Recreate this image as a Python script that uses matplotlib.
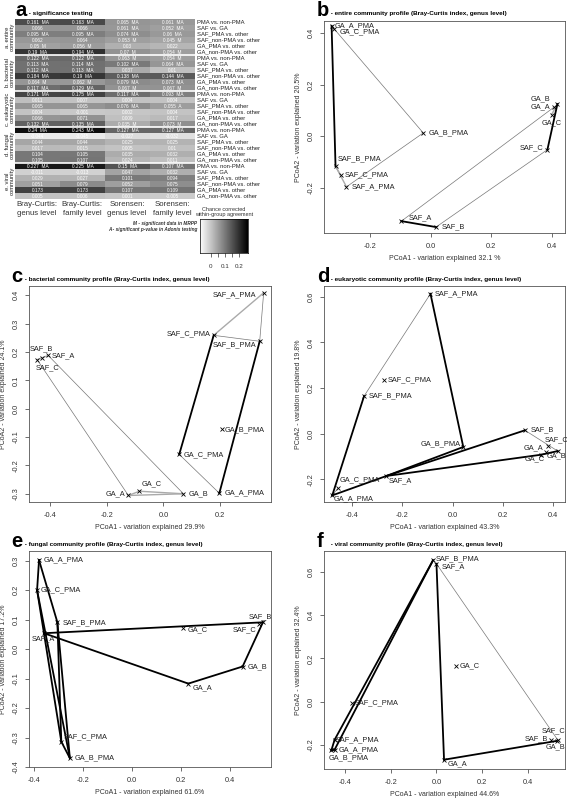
import numpy as np
import matplotlib.pyplot as plt
from matplotlib.ticker import FormatStrFormatter

plt.rcParams['font.family'] = ['Liberation Sans', 'DejaVu Sans']
plt.rcParams['axes.unicode_minus'] = False

W, H = 567, 798

# ---------------- panel a: significance testing ----------------
groups = ['a. entire\ncommunity', 'b. bacterial\ncommunity', 'c. eukaryotic\ncommunity',
          'd. fungal\ncommunity', 'e. viral\ncommunity']
comparisons = ['PMA vs. non-PMA', 'SAF vs. GA', 'SAF_PMA vs. other',
               'SAF_non-PMA vs. other', 'GA_PMA vs. other', 'GA_non-PMA vs. other']
methods = ['Bray-Curtis:\ngenus level', 'Bray-Curtis:\nfamily level',
           'Sorensen:\ngenus level', 'Sorensen:\nfamily level']

bc_genus = [0.161, 0.066, 0.095, 0.062, 0.05, 0.19,
            0.122, 0.113, 0.112, 0.184, 0.064, 0.117,
            0.171, 0.011, 0.065, 0.004, 0.066, 0.132,
            0.24, -0.044, 0.044, 0.017, 0.104, 0.105,
            0.227, -0.011, 0.029, 0.051, 0.173, 0.005]
bc_family = [0.163, 0.066, 0.095, 0.064, 0.056, 0.194,
             0.122, 0.114, 0.113, 0.19, 0.062, 0.129,
             0.175, 0.007, 0.065, -0.001, 0.071, 0.135,
             0.243, -0.045, 0.044, 0.015, 0.105, 0.107,
             0.225, -0.013, 0.027, 0.079, 0.173, 0.006]
sor_genus = [0.065, 0.061, 0.074, 0.053, 0.03, 0.07,
             0.063, 0.102, 0.037, 0.138, 0.079, 0.067,
             0.117, 0.004, 0.076, 0.002, 0.009, 0.035,
             0.127, -0.027, 0.025, 0.005, 0.035, 0.024,
             0.15, 0.047, 0.101, 0.052, 0.107, 0.001]
sor_family = [0.061, 0.052, 0.06, 0.045, 0.022, 0.054,
              0.054, 0.064, 0.01, 0.144, 0.073, 0.067,
              0.093, 0.004, 0.055, 0.004, 0.017, 0.073,
              0.127, -0.032, 0.025, 0.01, 0.032, 0.011,
              0.107, 0.032, 0.094, 0.075, 0.109, -0.005]

sig_bc_genus = ['MA', '', 'MA', '', 'M', 'MA',
                'MA', 'MA', 'MA', 'MA', 'M', 'MA',
                'MA', '', '', '', '', 'MA',
                'MA', '', '', '', '', '',
                'MA', '', '', '', '', '']
sig_bc_family = list(sig_bc_genus)
sig_sor_genus = ['MA', 'MA', 'MA', 'M', '', 'M',
                 'M', 'MA', '', 'MA', 'MA', 'M',
                 'MA', '', 'MA', '', '', 'M',
                 'MA', '', '', '', '', '',
                 'MA', '', '', '', '', '']
sig_sor_family = ['MA', 'MA', 'MA', 'M', '', 'M',
                  'M', 'MA', '', 'MA', 'MA', 'M',
                  'MA', '', 'A', '', '', 'M',
                  'MA', '', '', '', '', '',
                  'MA', '', '', '', '', '']

# ---------------- PCoA panels ----------------
b_names = ['GA_A_PMA', 'GA_C_PMA', 'GA_B_PMA', 'SAF_B_PMA', 'SAF_C_PMA', 'SAF_A_PMA',
           'SAF_A', 'SAF_B', 'GA_B', 'GA_A', 'GA_C', 'SAF_C']
b_x = [-0.326, -0.319, -0.024, -0.313, -0.296, -0.277, -0.096, 0.018, 0.418, 0.408, 0.399, 0.385]
b_y = [0.428, 0.415, 0.013, -0.116, -0.151, -0.196, -0.329, -0.352, 0.125, 0.114, 0.084, -0.052]
b_edges = [('GA_A_PMA', 'SAF_B_PMA', 'k'), ('GA_A_PMA', 'GA_C_PMA', 'l'),
           ('SAF_B_PMA', 'SAF_A_PMA', 'l'), ('SAF_B_PMA', 'SAF_C_PMA', 'l'),
           ('GA_A_PMA', 'GA_B_PMA', 'g'), ('GA_B_PMA', 'SAF_A_PMA', 'g'),
           ('SAF_A', 'SAF_B', 'k'), ('SAF_A', 'GA_A', 'g'), ('SAF_B', 'SAF_C', 'g'),
           ('GA_B', 'SAF_C', 'k'), ('GA_B', 'GA_C', 'l')]

c_names = ['SAF_A_PMA', 'SAF_C_PMA', 'SAF_B_PMA', 'GA_B_PMA', 'GA_C_PMA', 'GA_A_PMA',
           'GA_B', 'GA_A', 'GA_C', 'SAF_B', 'SAF_A', 'SAF_C']
c_x = [0.355, 0.178, 0.341, 0.207, 0.056, 0.198, 0.071, -0.124, -0.085, -0.447, -0.408, -0.43]
c_y = [0.409, 0.259, 0.238, -0.073, -0.161, -0.298, -0.3, -0.306, -0.291, 0.173, 0.188, 0.178]
c_edges = [('SAF_A_PMA', 'SAF_C_PMA', 'l'), ('SAF_A_PMA', 'SAF_B_PMA', 'g'),
           ('SAF_C_PMA', 'SAF_B_PMA', 'g'), ('SAF_C_PMA', 'GA_C_PMA', 'k'),
           ('SAF_B_PMA', 'GA_A_PMA', 'k'), ('GA_C_PMA', 'GA_A_PMA', 'g'),
           ('SAF_B', 'SAF_A', 'l'), ('SAF_B', 'GA_A', 'g'), ('SAF_A', 'GA_B', 'g'),
           ('GA_A', 'GA_C', 'l'), ('GA_C', 'GA_B', 'l'), ('GA_A', 'GA_B', 'l')]

d_names = ['SAF_A_PMA', 'SAF_C_PMA', 'SAF_B_PMA', 'GA_B_PMA', 'SAF_B', 'SAF_C',
           'GA_A', 'GA_B', 'GA_C', 'SAF_A', 'GA_C_PMA', 'GA_A_PMA']
d_x = [-0.088, -0.275, -0.353, 0.043, 0.289, 0.383, 0.373, 0.42, 0.353, -0.264, -0.457, -0.48]
d_y = [0.613, 0.236, 0.165, -0.058, 0.015, -0.054, -0.08, -0.076, -0.092, -0.185, -0.238, -0.27]
d_edges = [('SAF_A_PMA', 'SAF_B_PMA', 'g'), ('SAF_A_PMA', 'GA_B_PMA', 'k'),
           ('SAF_B_PMA', 'GA_A_PMA', 'k'), ('GA_A_PMA', 'SAF_A', 'k'),
           ('GA_A_PMA', 'GA_C_PMA', 'g'), ('SAF_A', 'GA_B_PMA', 'k'),
           ('SAF_A', 'SAF_B', 'k'), ('SAF_A', 'GA_C', 'k'), ('GA_C', 'GA_B', 'k'),
           ('SAF_B', 'GA_B', 'g')]

e_names = ['GA_A_PMA', 'GA_C_PMA', 'SAF_B_PMA', 'SAF_A', 'GA_C', 'SAF_B',
           'SAF_C', 'GA_B', 'GA_A', 'SAF_C_PMA', 'GA_B_PMA']
e_x = [-0.381, -0.389, -0.306, -0.361, 0.206, 0.534, 0.52, 0.451, 0.229, -0.29, -0.255]
e_y = [0.302, 0.2, 0.091, 0.054, 0.072, 0.091, 0.086, -0.059, -0.117, -0.314, -0.37]
e_edges = [('GA_A_PMA', 'GA_C_PMA', 'k'), ('GA_A_PMA', 'SAF_B_PMA', 'k'),
           ('SAF_B_PMA', 'GA_B_PMA', 'k'), ('SAF_B_PMA', 'SAF_C_PMA', 'k'),
           ('GA_C_PMA', 'SAF_C_PMA', 'k'), ('GA_C_PMA', 'GA_B_PMA', 'k'),
           ('SAF_C_PMA', 'GA_B_PMA', 'k'), ('SAF_A', 'SAF_B', 'k'),
           ('SAF_A', 'GA_A', 'k'), ('GA_A', 'GA_B', 'k'), ('GA_B', 'SAF_B', 'k')]

f_names = ['SAF_B_PMA', 'SAF_A', 'GA_C', 'SAF_C_PMA', 'SAF_A_PMA', 'GA_A_PMA',
           'GA_B_PMA', 'GA_A', 'SAF_B', 'SAF_C', 'GA_B']
f_x = [-0.015, 0.0, 0.087, -0.367, -0.444, -0.444, -0.458, 0.033, 0.499, 0.528, 0.524]
f_y = [0.654, 0.638, 0.165, -0.005, -0.177, -0.223, -0.226, -0.269, -0.18, -0.177, -0.182]
f_edges = [('SAF_B_PMA', 'SAF_A_PMA', 'k'), ('SAF_B_PMA', 'GA_A_PMA', 'k'),
           ('SAF_A_PMA', 'GA_B_PMA', 'k'), ('GA_A_PMA', 'GA_B_PMA', 'k'),
           ('SAF_A', 'GA_A', 'k'), ('GA_A', 'GA_B', 'k'),
           ('SAF_A', 'SAF_C', 'g'), ('SAF_C', 'GA_B', 'g')]

# label placement (pixel offsets dx, dy, horizontal alignment)
b_lab = {'GA_A_PMA': (3, 0, 'left'), 'GA_C_PMA': (6, -3, 'left'), 'GA_B_PMA': (5, 0, 'left'),
         'SAF_B_PMA': (2, 7, 'left'), 'SAF_C_PMA': (4, 0, 'left'), 'SAF_A_PMA': (5, 0, 'left'),
         'SAF_A': (7, 3, 'left'), 'SAF_B': (6, 0, 'left'), 'GA_B': (-7, 5, 'right'),
         'GA_A': (-4, 0, 'right'), 'GA_C': (0, -8, 'center'), 'SAF_C': (-4, 2, 'right')}
c_lab = {'SAF_A_PMA': (-7, -2, 'right'), 'SAF_C_PMA': (-3, 2, 'right'),
         'SAF_B_PMA': (-3, -3, 'right'), 'GA_B_PMA': (3, 0, 'left'), 'GA_C_PMA': (4, 0, 'left'),
         'GA_A_PMA': (5, 0, 'left'), 'GA_B': (5, 0, 'left'), 'GA_A': (-3, 2, 'right'),
         'GA_C': (2, 7, 'left'), 'SAF_B': (-8, 11, 'left'), 'SAF_A': (3, 0, 'left'),
         'SAF_C': (-6, -9, 'left')}
d_lab = {'SAF_A_PMA': (4, 0, 'left'), 'SAF_C_PMA': (4, 0, 'left'), 'SAF_B_PMA': (5, 0, 'left'),
         'GA_B_PMA': (-3, 3, 'right'), 'SAF_B': (6, 1, 'left'), 'SAF_C': (-4, 6, 'left'),
         'GA_A': (-3, 4, 'right'), 'GA_B': (-11, -5, 'left'), 'GA_C': (-16, -4, 'left'),
         'SAF_A': (2, -5, 'left'), 'GA_C_PMA': (2, 8, 'left'), 'GA_A_PMA': (1, -3, 'left')}
e_lab = {'GA_A_PMA': (5, 0, 'left'), 'GA_C_PMA': (4, 0, 'left'), 'SAF_B_PMA': (5, 0, 'left'),
         'SAF_A': (-12, -6, 'left'), 'GA_C': (5, -2, 'left'), 'SAF_B': (-14, 6, 'left'),
         'SAF_C': (-3, -6, 'right'), 'GA_B': (5, 0, 'left'), 'GA_A': (4, -4, 'left'),
         'SAF_C_PMA': (2, 5, 'left'), 'GA_B_PMA': (5, 0, 'left')}
f_lab = {'SAF_B_PMA': (3, 2, 'left'), 'SAF_A': (5, -3, 'left'), 'GA_C': (3, 0, 'left'),
         'SAF_C_PMA': (2, 0, 'left'), 'SAF_A_PMA': (1, 0, 'left'), 'GA_A_PMA': (4, 0, 'left'),
         'GA_B_PMA': (-3, -7, 'left'), 'GA_A': (4, -4, 'left'), 'SAF_B': (-3, 2, 'right'),
         'SAF_C': (-16, 9, 'left'), 'GA_B': (-11, -6, 'left')}


def rect(l, t, r, b):
    return [l / W, 1 - b / H, (r - l) / W, (b - t) / H]


def panel_title(x, y, letter, text):
    fig.text(x / W, 1 - y / H, letter, fontsize=14.5, fontweight='bold', ha='left', va='baseline')
    fig.text((x + 12) / W, 1 - (y - 1) / H, text, fontsize=4.6, fontweight='bold',
             ha='left', va='baseline')


def draw_pcoa(box, names, xs, ys, edges, labs, xlim, ylim, xticks, yticks, xlab, ylab):
    ax = fig.add_axes(rect(*box))
    pos = {n: (x, y) for n, x, y in zip(names, xs, ys)}
    styles = {'k': dict(color='black', lw=1.3, zorder=3),
              'g': dict(color='#777777', lw=0.5, zorder=2),
              'l': dict(color='#aaaaaa', lw=1.0, zorder=2)}
    for a, b, kind in edges:
        ax.plot([pos[a][0], pos[b][0]], [pos[a][1], pos[b][1]], **styles[kind])
    ax.plot(xs, ys, 'x', color='black', ms=2.2, mew=0.6, zorder=4)
    for n, x, y in zip(names, xs, ys):
        dx, dy, ha = labs[n]
        ax.annotate(n, (x, y), xytext=(dx * 0.72, dy * 0.72), textcoords='offset points',
                    ha=ha, va='center', fontsize=5.3, color='#222222')
    ax.set_xlim(xlim)
    ax.set_ylim(ylim)
    ax.set_xticks(xticks)
    ax.set_yticks(yticks)
    ax.xaxis.set_major_formatter(FormatStrFormatter('%.1f'))
    ax.yaxis.set_major_formatter(FormatStrFormatter('%.1f'))
    ax.tick_params(labelsize=5.3, length=3, width=0.5, pad=4, colors='#333333')
    for lab in ax.get_yticklabels():
        lab.set_rotation(90)
        lab.set_va('center')
    for s in ax.spines.values():
        s.set_linewidth(0.6)
        s.set_color('#555555')
    ax.set_xlabel(xlab, fontsize=5, labelpad=4, color='#333333')
    ax.set_ylabel(ylab, fontsize=5, labelpad=4, color='#333333')
    return ax


fig = plt.figure(figsize=(W / 100, H / 100), dpi=100)

# ---- panel a heatmap
mat = np.array([bc_genus, bc_family, sor_genus, sor_family]).T
sigs = np.array([sig_bc_genus, sig_bc_family, sig_sor_genus, sig_sor_family]).T
vmin, vmax = -0.073, 0.26
axh = fig.add_axes(rect(15, 19, 195, 199))
axh.imshow(mat, cmap='gray_r', vmin=vmin, vmax=vmax, aspect='auto', interpolation='nearest')
for i in range(mat.shape[0]):
    for j in range(mat.shape[1]):
        txt = f"{mat[i, j]:g}"
        if sigs[i, j]:
            txt += '  ' + sigs[i, j]
        axh.text(j, i, txt, ha='center', va='center', fontsize=3.4, color='white')
for k in range(1, len(groups)):
    axh.axhline(k * 6 - 0.5, color='white', lw=1.2)
for i in range(mat.shape[0]):
    axh.text(3.55, i, comparisons[i % 6], ha='left', va='center', fontsize=4.2, color='#222222')
for g, name in enumerate(groups):
    axh.text(-0.62, g * 6 + 2.5, name, ha='center', va='center', rotation=90, fontsize=4.2,
             color='#222222', linespacing=1.0)
axh.set_xticks([])
axh.set_yticks([])
for s in axh.spines.values():
    s.set_visible(False)
for j, m in enumerate(methods):
    fig.text((37 + 45 * j) / W, 1 - 209 / H, m, ha='center', va='center', fontsize=5.6,
             color='#333333', linespacing=1.3)
panel_title(15, 16, 'a', ' - significance testing')

# colour bar
axc = fig.add_axes(rect(200, 219, 248, 253))
grad = np.linspace(vmin, vmax, 200)[None, :]
axc.imshow(grad, cmap='gray_r', vmin=vmin, vmax=vmax, aspect='auto',
           extent=[vmin, vmax, 0, 1])
axc.set_yticks([])
axc.set_xticks([0, 0.05, 0.1, 0.15, 0.2])
axc.set_xticklabels(['0', '', '0.1', '', '0.2'])
axc.tick_params(axis='x', labelsize=4.5, length=3, width=0.5, pad=5, colors='#333333')
for s in axc.spines.values():
    s.set_linewidth(0.5)
fig.text(224 / W, 1 - 212 / H, 'Chance corrected\nwithin-group agreement', ha='center',
         va='center', fontsize=4, color='#333333', linespacing=1.0)
fig.text(197 / W, 1 - 224 / H, 'M - significant data in MRPP', ha='right', va='center',
         fontsize=3.4, style='italic', fontweight='bold', color='#333333')
fig.text(197 / W, 1 - 230 / H, 'A - significant p-value in Adonis testing', ha='right',
         va='center', fontsize=3.4, style='italic', fontweight='bold', color='#333333')

# ---- PCoA panels
draw_pcoa((324, 21, 565, 233), b_names, b_x, b_y, b_edges, b_lab,
          (-0.351, 0.443), (-0.375, 0.447), [-0.2, 0, 0.2, 0.4], [-0.2, 0, 0.2, 0.4],
          'PCoA1 - variation explained 32.1 %', 'PCoA2 - variation explained 20.5%')
panel_title(317, 16, 'b', ' - entire community profile (Bray-Curtis index, genus level)')

draw_pcoa((29, 286, 271, 502), c_names, c_x, c_y, c_edges, c_lab,
          (-0.476, 0.381), (-0.329, 0.433), [-0.4, -0.2, 0, 0.2],
          [-0.3, -0.2, -0.1, 0, 0.1, 0.2, 0.3, 0.4],
          'PCoA1 - variation explained 29.9%', 'PCoA2 - variation explained 24.1%')
panel_title(11, 282, 'c', ' - bacterial community profile (Bray-Curtis index, genus level)')

draw_pcoa((324, 286, 565, 502), d_names, d_x, d_y, d_edges, d_lab,
          (-0.513, 0.449), (-0.299, 0.647), [-0.4, -0.2, 0, 0.2, 0.4],
          [-0.2, 0, 0.2, 0.4, 0.6],
          'PCoA1 - variation explained 43.3%', 'PCoA2 - variation explained 19.8%')
panel_title(317, 282, 'd', ' - eukaryotic community profile (Bray-Curtis index, genus level)')

draw_pcoa((29, 551, 271, 767), e_names, e_x, e_y, e_edges, e_lab,
          (-0.422, 0.567), (-0.387, 0.333), [-0.4, -0.2, 0, 0.2, 0.4],
          [-0.4, -0.3, -0.2, -0.1, 0, 0.1, 0.2, 0.3],
          'PCoA1 - variation explained 61.6%', 'PCoA2 - variation explained 17.2%')
panel_title(11, 547, 'e', ' - fungal community profile (Bray-Curtis index, genus level)')

draw_pcoa((324, 551, 565, 769), f_names, f_x, f_y, f_edges, f_lab,
          (-0.49, 0.56), (-0.312, 0.697), [-0.4, -0.2, 0, 0.2, 0.4],
          [-0.2, 0, 0.2, 0.4, 0.6],
          'PCoA1 - variation explained 44.6%', 'PCoA2 - variation explained 32.4%')
panel_title(317, 547, 'f', ' - viral community profile (Bray-Curtis index, genus level)')

fig.savefig('out.png', dpi=100)
